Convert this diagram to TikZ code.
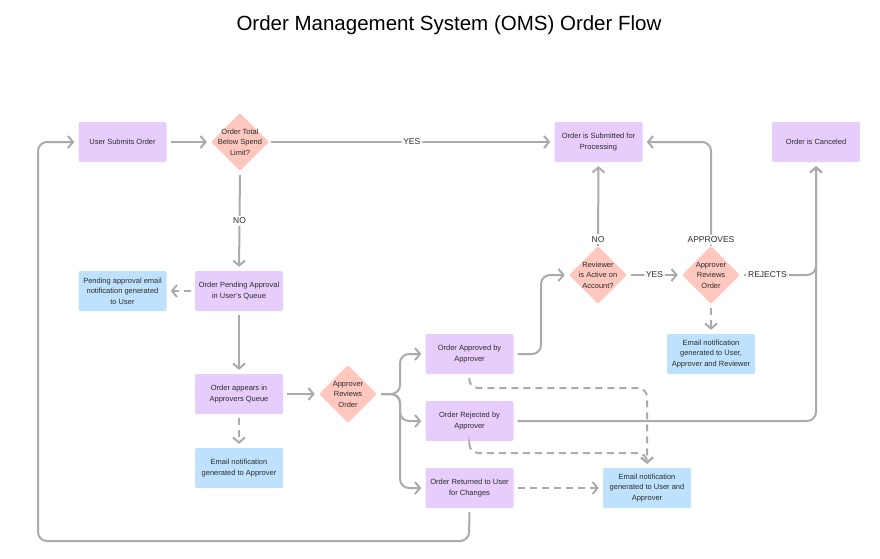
\documentclass[tikz,border=0pt]{standalone}
\usepackage{fontspec}
\setmainfont{Liberation Sans}
\usetikzlibrary{arrows.meta,shapes.geometric}
\definecolor{purp}{HTML}{E6CDFC}
\definecolor{bluef}{HTML}{BEE2FD}
\definecolor{pinkf}{HTML}{FFC8BF}
\definecolor{lg}{HTML}{ABABAB}
\definecolor{txt}{HTML}{2B2B2B}
\newcommand{\nodefont}{\fontsize{7.5}{10.5}\selectfont}
\newcommand{\labfont}{\fontsize{8.5}{10}\selectfont}
\begin{document}
\begin{tikzpicture}[x=1pt,y=-1pt,
  box/.style={rectangle, rounded corners=2pt, minimum width=88pt, minimum height=40pt, align=center, font=\nodefont, text=txt, inner sep=2pt},
  proc/.style={box, fill=purp},
  note/.style={box, fill=bluef},
  dia/.style={diamond, fill=pinkf, minimum width=58pt, minimum height=58pt, inner sep=0pt, rounded corners=2pt},
  dtext/.style={align=center, font=\nodefont, text=txt, inner sep=0pt},
  conn/.style={draw=lg, line width=2pt, rounded corners=9pt, shorten <=4pt, shorten >=4pt, -{Straight Barb[length=5pt,width=12pt]}},
  dconn/.style={conn, dash pattern=on 7pt off 5pt},
  lab/.style={font=\labfont, text=txt, fill=white, inner sep=2pt}
]
\fill[white] (0,0) rectangle (880,558);
\useasboundingbox (0,0) rectangle (880,558);

\node[font=\fontsize{20.5}{24}\selectfont, text=black] (title) at (449,25) {Order Management System (OMS) Order Flow};

% nodes
\node[proc] (uso) at (122.5,142) {User Submits Order};
\node[dia] (d1) at (240,142) {};
\node[dtext] at (d1) {Order Total\\Below Spend\\Limit?};
\node[proc] (sub) at (598.5,142) {Order is Submitted for\\Processing};
\node[proc] (canc) at (816,142) {Order is Canceled};
\node[note] (pnote) at (122.5,291) {Pending approval email\\notification generated\\to User};
\node[proc] (pend) at (239,291) {Order Pending Approval\\in User's Queue};
\node[proc] (aq) at (239,394) {Order appears in\\Approvers Queue};
\node[note] (an) at (239,468) {Email notification\\generated to Approver};
\node[dia] (d2) at (348,394) {};
\node[dtext] at (d2) {Approver\\Reviews\\Order};
\node[proc] (appr) at (469.5,354) {Order Approved by\\Approver};
\node[proc] (rej) at (469.5,421) {Order Rejected by\\Approver};
\node[proc] (ret) at (469.5,488) {Order Returned to User\\for Changes};
\node[note] (en2) at (647,488) {Email notification\\generated to User and\\Approver};
\node[dia] (d3) at (598,275) {};
\node[dtext] at (d3) {Reviewer\\is Active on\\Account?};
\node[dia] (d4) at (711,275) {};
\node[dtext] at (d4) {Approver\\Reviews\\Order};
\node[note] (en3) at (711,354) {Email notification\\generated to User,\\Approver and Reviewer};

% helper coordinates
\coordinate (br) at (400,394);
\coordinate (c1) at (541,354);
\coordinate (c2) at (711,142);
\coordinate (c3) at (816,275);
\coordinate (c4) at (816,421);
\coordinate (c5) at (469,388);
\coordinate (c6) at (647,388);
\coordinate (c7) at (469,453);
\coordinate (c8) at (647,453);
\coordinate (c9) at (469,541);
\coordinate (c10) at (38,541);
\coordinate (c11) at (38,142);

% connectors
\draw[conn] (uso) -- (d1);
\draw[conn, shorten <=2pt] (d1.east) -- node[lab]{YES} (sub.west);
\draw[conn] (d1.south) -- node[lab]{NO} (pend.north);
\draw[dconn] (pend.west) -- (pnote.east);
\draw[conn] (pend.south) -- (aq.north);
\draw[dconn] (aq.south) -- (an.north);
\draw[conn] (aq.east) -- (d2.west);
\draw[conn] (d2.east) -- (br) |- (appr.west);
\draw[conn] (d2.east) -- (br) |- (rej.west);
\draw[conn] (d2.east) -- (br) |- (ret.west);
\draw[conn] (appr.east) -- (c1) |- (d3.west);
\draw[conn, shorten <=0pt] (d3.north) -- node[lab, pos=0.08]{NO} (sub.south);
\draw[conn] (d3.east) -- node[lab]{YES} (d4.west);
\draw[conn, shorten <=0pt] (d4.north) -- node[lab, pos=0.06]{APPROVES} (c2) -- (sub.east);
\draw[conn] (d4.east) -- node[lab, pos=0.36]{REJECTS} (c3) -- (canc.south);
\draw[dconn] (d4.south) -- (en3.north);
\draw[conn] (rej.east) -- (c4) -- (canc.south);
\draw[dconn] (appr.south) -- (c5) -- (c6) -- (en2.north);
\draw[dconn] (rej.south) -- (c7) -- (c8) -- (en2.north);
\draw[dconn] (ret.east) -- (en2.west);
\draw[conn] (ret.south) -- (c9) -- (c10) -- (c11) -- (uso.west);
\end{tikzpicture}
\end{document}
